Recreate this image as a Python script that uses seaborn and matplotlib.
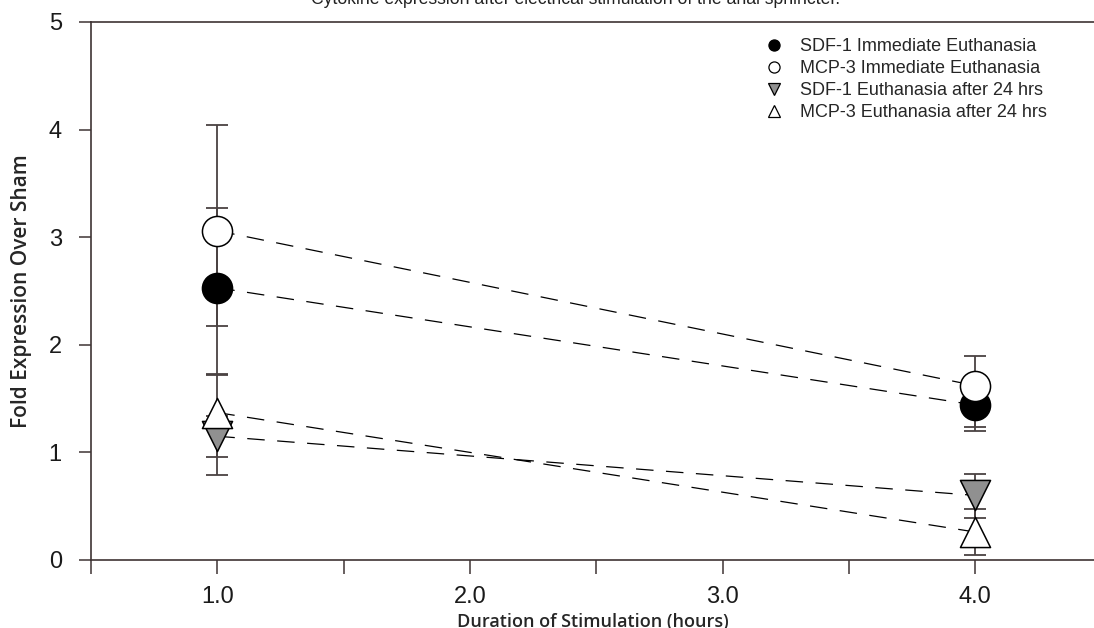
import seaborn as sns
import matplotlib.pyplot as plt
import pandas as pd
from matplotlib.lines import Line2D

# values (fold expression over sham)
hours = [1.0, 4.0]
sdf1_imm = [2.53, 1.44]
sdf1_imm_lo = [1.73, 1.20]
sdf1_imm_hi = [3.27, 1.68]
mcp3_imm = [3.06, 1.62]
mcp3_imm_lo = [2.17, 1.24]
mcp3_imm_hi = [4.04, 1.90]
sdf1_24 = [1.15, 0.60]
sdf1_24_lo = [0.96, 0.39]
sdf1_24_hi = [1.34, 0.80]
mcp3_24 = [1.37, 0.26]
mcp3_24_lo = [0.79, 0.05]
mcp3_24_hi = [1.72, 0.47]
labels = ['SDF-1 Immediate Euthanasia', 'MCP-3 Immediate Euthanasia',
          'SDF-1 Euthanasia after 24 hrs', 'MCP-3 Euthanasia after 24 hrs']

series = [
    (labels[0], sdf1_imm, sdf1_imm_lo, sdf1_imm_hi, 'o', 'black'),
    (labels[1], mcp3_imm, mcp3_imm_lo, mcp3_imm_hi, 'o', 'white'),
    (labels[2], sdf1_24, sdf1_24_lo, sdf1_24_hi, 'v', '#909090'),
    (labels[3], mcp3_24, mcp3_24_lo, mcp3_24_hi, '^', 'white'),
]

rows = []
for name, vals, lo, hi, m, c in series:
    for h, v in zip(hours, vals):
        rows.append({'hours': h, 'fold': v, 'group': name})
df = pd.DataFrame(rows)

sns.set_style('ticks')
plt.rcParams['font.family'] = ['Liberation Sans', 'DejaVu Sans']

fig = plt.figure(figsize=(10.94, 6.28), dpi=100)
ax = fig.add_axes([0.0832, 0.1083, 0.9168, 0.8567])

axis_col = '#3e3434'
# dashed connecting lines
sns.lineplot(data=df, x='hours', y='fold', units='group', estimator=None,
             color='black', linewidth=0.9, ax=ax, zorder=1, legend=False)
for ln in ax.get_lines():
    ln.set_dashes([14, 10])

for name, vals, lo, hi, m, c in series:
    yerr = [[v - l for v, l in zip(vals, lo)], [h - v for v, h in zip(vals, hi)]]
    ax.errorbar(hours, vals, yerr=yerr, fmt='none', ecolor='#4a4242',
                elinewidth=1.3, capsize=8, capthick=1.3, zorder=2)

for name, vals, lo, hi, m, c in series:
    sub = df[df['group'] == name]
    sns.scatterplot(data=sub, x='hours', y='fold', marker=m, s=470,
                    color=c, edgecolor='black', linewidth=1.1, ax=ax,
                    zorder=3, legend=False)

ax.set_xlim(0.5, 4.47)
ax.set_ylim(0, 5)
ax.set_xticks([1, 2, 3, 4])
ax.set_xticklabels(['1.0', '2.0', '3.0', '4.0'])
ax.set_xticks([0.5, 1.5, 2.5, 3.5], minor=True)
ax.set_yticks([0, 1, 2, 3, 4, 5])
ax.tick_params(axis='both', which='both', direction='out', color=axis_col,
               width=1.1, labelsize=17, labelcolor='#1a1a1a')
ax.tick_params(axis='y', length=9, pad=12)
ax.tick_params(axis='x', which='major', length=10, pad=9)
ax.tick_params(axis='x', which='minor', length=10)
for side in ['left', 'bottom', 'top']:
    ax.spines[side].set_color(axis_col)
    ax.spines[side].set_linewidth(1.2)
    ax.spines[side].set_visible(True)
ax.spines['right'].set_visible(False)

ax.set_xlabel('Duration of Stimulation (hours)', fontsize=13, family='Open Sans',
              fontweight='semibold', labelpad=3)
ax.set_ylabel('Fold Expression Over Sham', fontsize=15, family='Open Sans',
              fontweight='semibold', labelpad=12)

fig.text(0.526, 1.0, 'Cytokine expression after electrical stimulation of the anal sphincter.',
         ha='center', va='center', fontsize=12.7, color='#222222')

handles = [Line2D([], [], linestyle='none', marker=m, markersize=8,
                  markerfacecolor=c, markeredgecolor='black', markeredgewidth=0.9)
           for name, vals, lo, hi, m, c in series]
ax.legend(handles, labels, loc='upper left', bbox_to_anchor=(0.683, 0.965),
          bbox_transform=fig.transFigure, frameon=False, fontsize=13,
          handletextpad=0.8, labelspacing=0.28, handlelength=1.2)

fig.savefig('out.png', dpi=100)
